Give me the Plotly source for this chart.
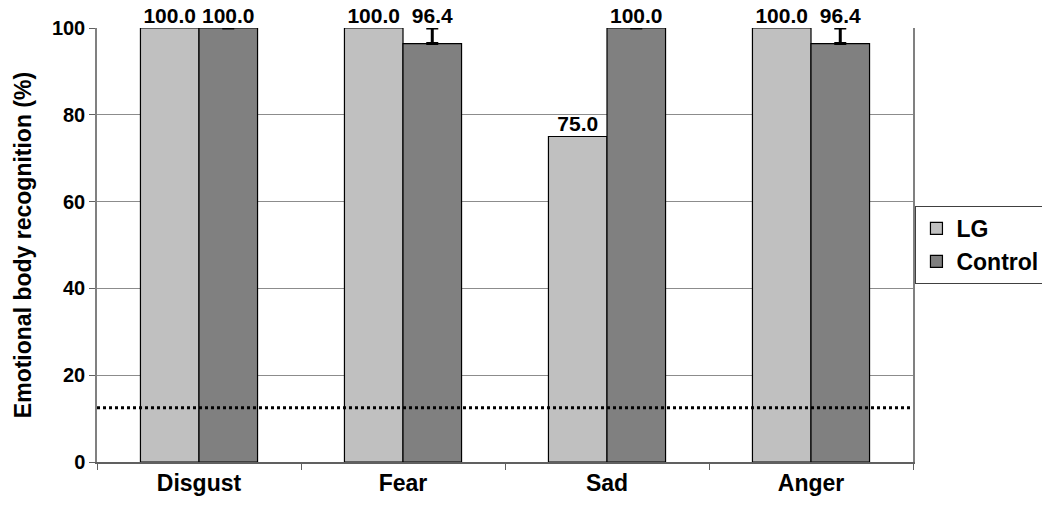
import plotly.graph_objects as go

categories = ["Disgust", "Fear", "Sad", "Anger"]
lg_values = [100.0, 100.0, 75.0, 100.0]
control_values = [100.0, 96.4, 100.0, 96.4]
control_err = [0.0, 3.6, 0.0, 3.6]
chance_level = 12.5
y_ticks = [0, 20, 40, 60, 80, 100]

FONT = "Liberation Sans, Arial, sans-serif"

fig = go.Figure()
fig.add_trace(go.Bar(
    name="LG", x=categories, y=lg_values, offsetgroup="lg",
    marker=dict(color="#C0C0C0", line=dict(color="black", width=1.2)),
    cliponaxis=False,
))
fig.add_trace(go.Bar(
    name="Control", x=categories, y=control_values, offsetgroup="ctrl",
    marker=dict(color="#808080", line=dict(color="black", width=1.2)),
    error_y=dict(type="data", array=control_err, arrayminus=[0] * len(control_err),
                 symmetric=False, color="black", thickness=3, width=6),
    cliponaxis=False,
))
# value labels
fig.add_trace(go.Scatter(
    x=categories, y=lg_values, offsetgroup="lg", mode="text",
    text=[f"{v:.1f}" for v in lg_values], textposition="top center",
    textfont=dict(family=FONT, size=21, color="black", weight="bold"),
    showlegend=False, hoverinfo="skip", cliponaxis=False,
))
fig.add_trace(go.Scatter(
    x=categories, y=[v + e for v, e in zip(control_values, control_err)],
    offsetgroup="ctrl", mode="text",
    text=[f"{v:.1f}" for v in control_values], textposition="top center",
    textfont=dict(family=FONT, size=21, color="black", weight="bold"),
    showlegend=False, hoverinfo="skip", cliponaxis=False,
))

fig.add_shape(type="line", xref="paper", x0=0, x1=1, yref="y", y0=chance_level, y1=chance_level,
              line=dict(color="black", width=3, dash="dot"))

# page body has an 8px margin: figure is 1042x504 so the plot lands where the reference has it
fig.update_layout(
    width=1042, height=504,
    margin=dict(l=89, r=137, t=20, b=50, autoexpand=False),
    paper_bgcolor="white", plot_bgcolor="white",
    barmode="group", bargap=0.426, bargroupgap=0, scattermode="group",
    font=dict(family=FONT, color="black", size=20, weight="bold"),
    showlegend=True,
    legend=dict(x=1.003, y=0.5, xanchor="left", yanchor="middle",
                bordercolor="#404040", borderwidth=1, bgcolor="white",
                font=dict(size=23, family=FONT, weight="bold"),
                tracegroupgap=2, itemwidth=30),
    xaxis=dict(
        showline=True, linecolor="#606060", linewidth=1.5, mirror=False,
        ticks="outside", tickson="boundaries", ticklen=6, tickcolor="#606060",
        tickfont=dict(size=23, family=FONT, weight="bold"),
        showgrid=False, automargin=False,
    ),
    yaxis=dict(
        range=[0, 100], tickvals=y_ticks, showline=True, linecolor="#808080", linewidth=1.5,
        mirror=True, ticks="outside", ticklen=6, tickcolor="#606060",
        showgrid=True, gridcolor="#8c8c8c", gridwidth=1,
        tickfont=dict(size=20, family=FONT, weight="bold"),
        title=dict(text="Emotional body recognition (%)", font=dict(size=23, family=FONT, weight="bold"),
                   standoff=14),
        zeroline=False, automargin=False,
    ),
)

fig.write_html("out.html")
